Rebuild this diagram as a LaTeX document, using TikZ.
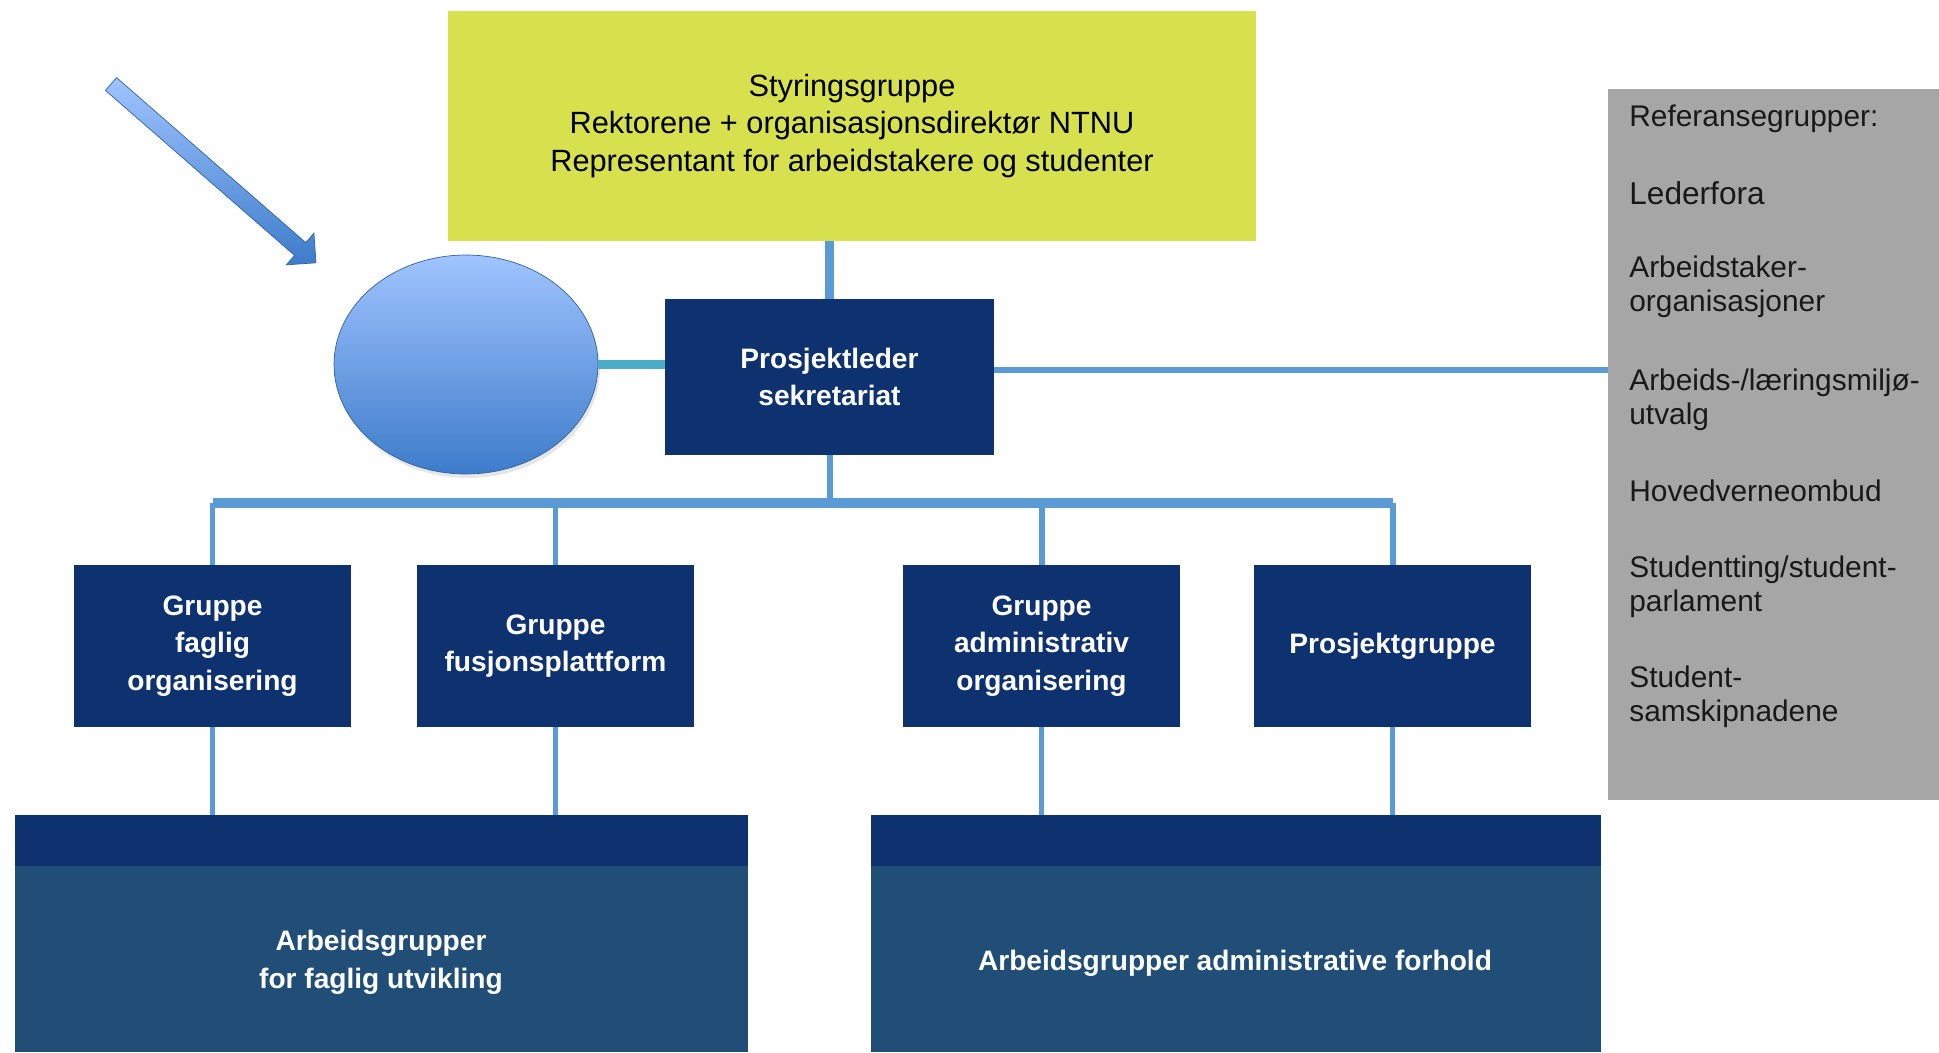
\documentclass[tikz,border=0pt]{standalone}
\usepackage{fontspec}
\setmainfont{Liberation Sans}
\usetikzlibrary{positioning,shapes.geometric,shadows}
\definecolor{navy}{HTML}{0E3170}
\definecolor{steel}{HTML}{204E77}
\definecolor{lime}{HTML}{D7E14E}
\definecolor{refgray}{HTML}{A6A6A6}
\definecolor{linkblue}{HTML}{5B9BD5}
\definecolor{linkteal}{HTML}{4BACC6}
\definecolor{balltop}{HTML}{A0C4FF}
\definecolor{ballbot}{HTML}{3D7CCA}

\begin{document}
\begin{tikzpicture}[x=0.02cm,y=-0.02cm,
    navybox/.style={fill=navy,text=white,align=center,inner sep=0pt,
      font=\fontsize{16}{21.5}\selectfont\bfseries},
    groupbox/.style={navybox,minimum width=5.54cm,minimum height=3.24cm},
    workbox/.style={fill=steel,inner sep=0pt,minimum height=4.74cm,
      path picture={\fill[navy] (path picture bounding box.north west)
        rectangle ([yshift=-1.02cm]path picture bounding box.north east);}},
    worktext/.style={text=white,align=center,font=\fontsize{16}{21.5}\selectfont\bfseries},
    reftext/.style={anchor=west,align=left,inner sep=0pt,text=black!90,
      font=\fontsize{17}{19.5}\selectfont},
    link/.style={draw=linkblue,line width=3.4pt}]
    \useasboundingbox (0,0) rectangle (1939,1052);

    % Boxes
    \node[fill=lime,minimum width=16.16cm,minimum height=4.6cm,align=center,
      font=\fontsize{17.5}{21.5}\selectfont] (styr) at (852,126)
      {Styringsgruppe\\Rektorene + organisasjonsdirektør NTNU\\Representant for arbeidstakere og studenter};
    \node[navybox,minimum width=6.58cm,minimum height=3.12cm] (pl) at (829.5,377) {Prosjektleder\\sekretariat};
    \node[ellipse,minimum width=5.28cm,minimum height=4.38cm,draw=ballbot!80!black,
      top color=balltop,bottom color=ballbot,
      drop shadow={opacity=0.2,shadow xshift=0.04cm,shadow yshift=-0.08cm}] (ell) at (466,364.5) {};
    \node[fill=refgray,minimum width=6.62cm,minimum height=14.22cm] (ref) at (1773.5,444.5) {};

    \node[groupbox] (g1) at (212.5,646) {Gruppe\\faglig\\organisering};
    \node[groupbox] (g2) at (555.5,646) {Gruppe\\fusjonsplattform};
    \node[groupbox] (g3) at (1041.5,646) {Gruppe\\administrativ\\organisering};
    \node[groupbox] (g4) at (1392.5,646) {Prosjektgruppe};

    \node[workbox,minimum width=14.66cm] (fag) at (381.5,933.5) {};
    \node[workbox,minimum width=14.6cm] (adm) at (1236,933.5) {};
    \node[worktext] (fagtxt) at (381,962) {Arbeidsgrupper\\for faglig utvikling};
    \node[worktext] (admtxt) at (1235,963) {Arbeidsgrupper administrative forhold};

    % Reference groups
    \node[reftext] (r1) at (1629,119) {Referansegrupper:};
    \node[reftext,font=\fontsize{18}{21}\selectfont] (r2) at (1629,193) {Lederfora};
    \node[reftext] (r3) at (1629,287) {Arbeidstaker-\\organisasjoner};
    \node[reftext] (r4) at (1629,399.5) {Arbeids-/læringsmiljø-\\utvalg};
    \node[reftext] (r5) at (1629,491) {Hovedverneombud};
    \node[reftext] (r6) at (1629,586.5) {Studentting/student-\\parlament};
    \node[reftext] (r7) at (1629,696.5) {Student-\\samskipnadene};

    % Connectors
    \coordinate (bus) at (829,503);
    \draw[link,line width=5.5pt] (pl.north |- styr.south) -- (pl.north);
    \draw[link,line width=3.8pt] ([yshift=0.14cm]pl.east) -- ([yshift=0.14cm]pl.east -| ref.west);
    \draw[draw=linkteal,line width=5.5pt] (ell.east) -- (ell.east -| pl.west);
    \draw[link] (pl.south) -- (pl.south |- bus);
    \draw[link,line width=5.5pt] (g1.north |- bus) -- (g4.north |- bus);
    \foreach \g in {g1,g2,g3,g4}
      \draw[link] (\g.north) -- (\g.north |- bus);
    \draw[link,line width=2.8pt] (g1.south) -- (g1.south |- fag.north);
    \draw[link,line width=2.8pt] (g2.south) -- (g2.south |- fag.north);
    \draw[link,line width=2.8pt] (g3.south) -- (g3.south |- adm.north);
    \draw[link,line width=2.8pt] (g4.south) -- (g4.south |- adm.north);

    % Block arrow
    \begin{scope}[shift={(111,84)},rotate=-41.1,x=0.02cm,y=0.02cm]
      \shade[top color=balltop,bottom color=ballbot,draw=ballbot!80!black]
        (0,-8.5) -- (251,-8.5) -- (251,-21) -- (272,0) -- (251,21) -- (251,8.5) -- (0,8.5) -- cycle;
    \end{scope}
\end{tikzpicture}
\end{document}
